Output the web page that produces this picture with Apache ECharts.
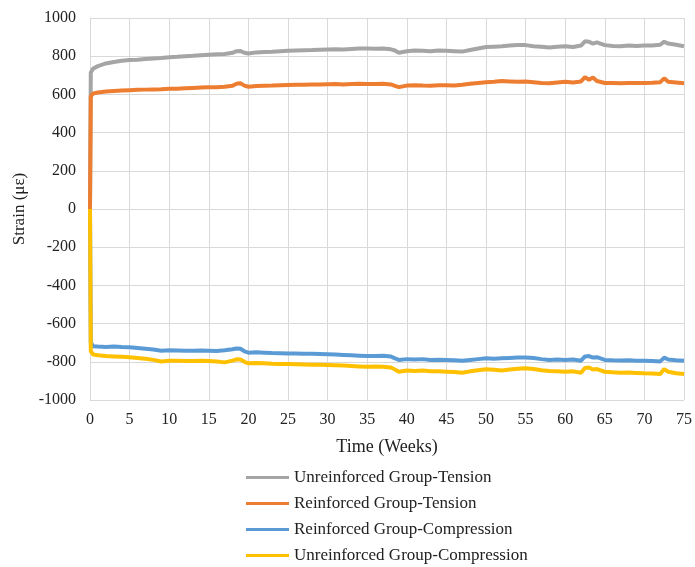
<!DOCTYPE html>
<html>
<head>
<meta charset="utf-8">
<script src="https://cdn.jsdelivr.net/npm/echarts@6/dist/echarts.min.js"></script>
<style>
html,body{margin:0;padding:0;background:#fff;}
#chart{width:695px;height:567px;}
</style>
</head>
<body>
<div id="chart"></div>
<script>
var weeks = [0,0.1,0.4,1,2,3,4,5,6,7,8,9,10,11,12,13,14,15,16,17,18,18.5,19,19.5,20,21,22,23,24,25,26,27,28,29,30,31,32,33,34,35,36,37,38,38.5,39,40,41,42,43,44,45,46,47,48,49,50,51,52,53,54,55,56,57,58,59,60,61,62,62.5,63,63.5,64,65,66,67,68,69,70,71,72,72.5,73,74,75];

var unreinforcedTension = [0,715,735,748,762,770,776,780,782,785,788,790,795,797,800,802,805,808,810,812,818,826,827,818,814,820,822,823,826,828,830,831,832,834,835,836,835,838,840,840,839,840,836,830,818,826,830,828,826,830,828,826,824,832,840,848,850,852,856,858,858,852,850,846,850,852,848,856,878,876,866,872,858,854,852,856,854,856,856,860,876,866,860,852];

var reinforcedTension = [0,590,605,610,615,618,620,622,624,625,626,627,630,630,632,634,636,637,638,640,645,656,658,646,640,644,645,646,648,649,650,651,652,652,653,654,652,655,656,655,654,656,652,645,638,646,648,646,645,648,648,646,650,656,660,664,666,670,668,666,668,664,660,658,662,666,662,668,690,676,688,670,660,660,658,660,660,660,661,664,684,666,662,658];

var reinforcedCompression = [0,-700,-718,-720,-722,-720,-723,-724,-728,-732,-736,-742,-740,-741,-742,-742,-741,-742,-743,-740,-734,-730,-732,-745,-752,-750,-752,-754,-755,-756,-757,-758,-758,-759,-760,-762,-764,-766,-768,-770,-769,-768,-772,-782,-790,-786,-788,-786,-790,-789,-790,-792,-795,-790,-786,-782,-784,-782,-780,-778,-777,-780,-786,-790,-788,-790,-788,-794,-772,-770,-778,-776,-790,-792,-793,-792,-794,-794,-796,-798,-778,-788,-792,-795];

var unreinforcedCompression = [0,-745,-762,-766,-770,-772,-774,-776,-780,-784,-790,-798,-794,-795,-796,-796,-795,-796,-798,-803,-794,-787,-788,-800,-808,-806,-808,-810,-811,-812,-813,-814,-815,-816,-817,-818,-820,-822,-824,-826,-825,-826,-830,-840,-852,-846,-848,-846,-850,-850,-852,-854,-857,-850,-844,-839,-842,-846,-840,-836,-834,-838,-844,-848,-850,-852,-850,-857,-832,-830,-840,-838,-852,-855,-857,-856,-858,-860,-861,-864,-838,-852,-860,-864];

var seriesNames = ['Unreinforced Group-Tension','Reinforced Group-Tension','Reinforced Group-Compression','Unreinforced Group-Compression'];
var seriesColors = ['#A5A5A5','#ED7D31','#5B9BD5','#FFC000'];
var seriesValues = [unreinforcedTension, reinforcedTension, reinforcedCompression, unreinforcedCompression];

var font = '"Liberation Serif", "Times New Roman", serif';

function pairs(vals){
  return weeks.map(function(w,i){ return [w, vals[i]]; });
}

var chart = echarts.init(document.getElementById('chart'), null, {renderer:'canvas'});
chart.setOption({
  animation:false,
  backgroundColor:'#fff',
  grid:{left:90, right:7, top:18, bottom:167, containLabel:false},
  xAxis:{
    type:'value', min:0, max:75, interval:5,
    name:'Time (Weeks)', nameLocation:'middle', nameGap:38,
    nameTextStyle:{fontFamily:font, fontSize:18, color:'#222'},
    axisLine:{show:true, lineStyle:{color:'#d9d9d9', width:1}},
    axisTick:{show:false},
    axisLabel:{fontFamily:font, fontSize:16, color:'#222', margin:12},
    splitLine:{show:true, lineStyle:{color:'#d9d9d9', width:1}}
  },
  yAxis:{
    type:'value', min:-1000, max:1000, interval:200,
    name:'Strain (με)', nameLocation:'middle', nameGap:62,
    nameTextStyle:{fontFamily:font, fontSize:17, color:'#222'},
    axisLine:{show:true, lineStyle:{color:'#d9d9d9', width:1}},
    axisTick:{show:false},
    axisLabel:{fontFamily:font, fontSize:16, color:'#222', margin:14,
      formatter:function(v){ return String(v); }},
    splitLine:{show:true, lineStyle:{color:'#d9d9d9', width:1}}
  },
  legend:{
    orient:'vertical', left:246, top:469, padding:0, height:100,
    itemWidth:43, itemHeight:3, itemGap:9,
    icon:'rect',
    textStyle:{fontFamily:font, fontSize:17, color:'#222'},
    data:seriesNames
  },
  series: seriesNames.map(function(n,i){
    return {
      name:n, type:'line', data:pairs(seriesValues[i]),
      showSymbol:false, symbol:'none',
      lineStyle:{color:seriesColors[i], width:4},
      itemStyle:{color:seriesColors[i]},
      z:2+i
    };
  })
});
</script>
</body>
</html>
